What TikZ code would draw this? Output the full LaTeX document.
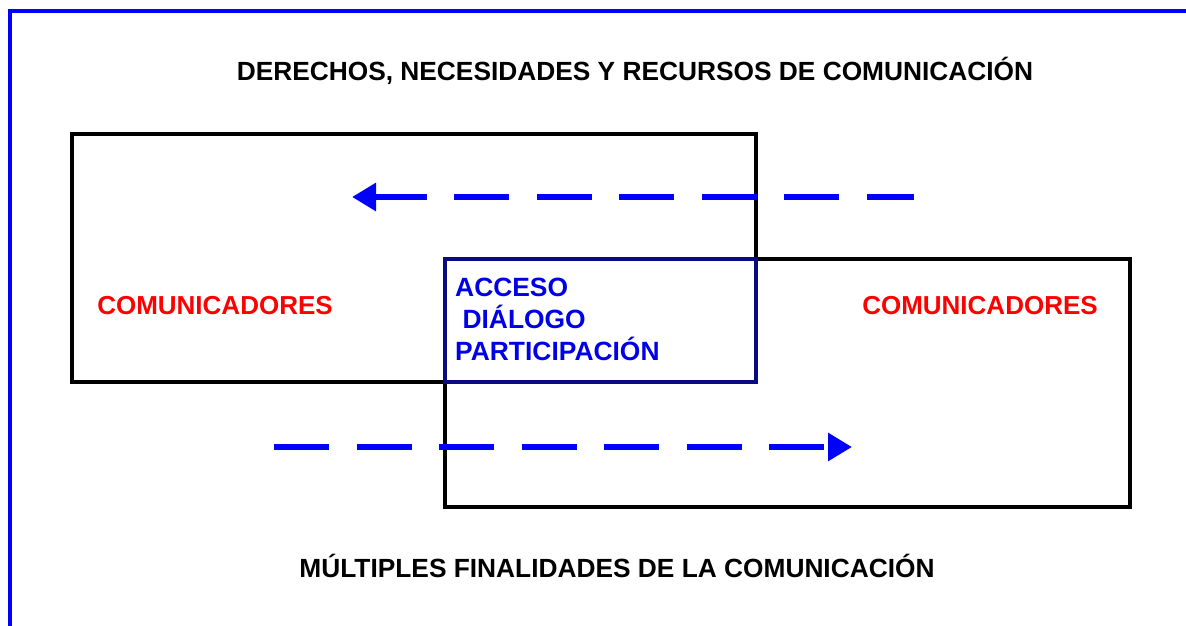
\documentclass[tikz,border=0pt]{standalone}
\usepackage{fontspec}
\setmainfont{Liberation Sans}
\usetikzlibrary{arrows.meta}
\definecolor{framebl}{RGB}{0,0,255}
\definecolor{txtbl}{RGB}{0,0,230}
\definecolor{navyb}{RGB}{10,10,130}
\definecolor{redc}{RGB}{255,0,0}
\tikzset{
  boxline/.style={draw=black, line width=4.5pt},
  overlapline/.style={draw=navyb, line width=4.5pt},
  dasharrow/.style={draw=framebl, line width=6.8pt, dash pattern=on 55pt off 27.5pt,
    -{Triangle[length=24pt,width=27pt]}},
  title/.style={font=\bfseries\fontsize{26.3}{30}\selectfont, text=black, inner sep=0pt},
  comm/.style={font=\bfseries\fontsize{26}{30}\selectfont, text=redc, inner sep=0pt},
  inner/.style={font=\bfseries\fontsize{26.4}{30}\selectfont, text=txtbl, inner sep=0pt, anchor=base west},
}
\begin{document}
\begin{tikzpicture}[x=1pt,y=-1pt]
\useasboundingbox (0,0) rectangle (1186,626);
% frame
\draw[framebl, line width=4.6pt] (10,630) -- (10,11) -- (1190,11);
% boxes
\draw[boxline] (72,134) rectangle (756,382);
\draw[boxline] (445,259) rectangle (1130,507);
\draw[overlapline] (445,259) rectangle (756,382);
% titles
\node[title, anchor=base] (top) at (635,81) {DERECHOS, NECESIDADES Y RECURSOS DE COMUNICACIÓN};
\node[title, anchor=base] (bottom) at (617,577) {MÚLTIPLES FINALIDADES DE LA COMUNICACIÓN};
% communicators
\node[comm, anchor=base] (lcom) at (215,314) {COMUNICADORES};
\node[comm, anchor=base] (rcom) at (980,314) {COMUNICADORES};
% inner text
\node[inner] (acc) at (455,296) {ACCESO};
\node[inner] (dia) at (455,328) {\ DIÁLOGO};
\node[inner] (par) at (455,360) {PARTICIPACIÓN};
% arrows
\coordinate (t1) at (914,197);
\coordinate (t2) at (352,197);
\coordinate (b1) at (274,447);
\coordinate (b2) at (852,447);
\draw[dasharrow, dash phase=7.5pt] (t1) -- (t2);
\draw[dasharrow] (b1) -- (b2);
\end{tikzpicture}
\end{document}
